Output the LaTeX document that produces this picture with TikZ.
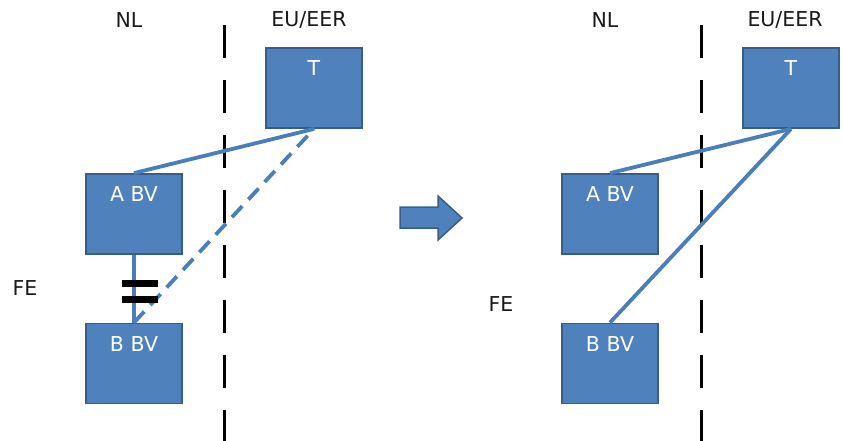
\documentclass[tikz,border=0pt]{standalone}
\usepackage{fontspec}
\setmainfont{DejaVu Sans}
\definecolor{boxfill}{HTML}{4F81BD}
\definecolor{boxline}{HTML}{385D8A}
\definecolor{linkblue}{HTML}{4A7EBB}
\definecolor{txt}{HTML}{1A1A1A}
\begin{document}
\begin{tikzpicture}[x=1pt,y=-1pt,
  box/.style={draw=boxline,fill=boxfill,line width=1.8pt,minimum width=96pt,minimum height=80pt,inner sep=0pt},
  boxtxt/.style={text=white,font=\fontsize{20.5}{24}\selectfont,inner sep=0pt,anchor=center,yshift=-21pt},
  lab/.style={text=txt,font=\fontsize{20.5}{24}\selectfont,inner sep=0pt},
  link/.style={draw=linkblue,line width=3.8pt},
  dlink/.style={link,dash pattern=on 15pt off 9pt},
  border/.style={draw=black,line width=3pt,dash pattern=on 33pt off 22pt},
  bar/.style={fill=black,minimum width=36pt,minimum height=7pt,inner sep=0pt},
  bigarrow/.style={draw=boxline,fill=boxfill,line width=1.5pt,line join=miter}]
\useasboundingbox (0,0) rectangle (843,441);
% left panel
\node[lab] (nl1) at (129,20) {NL};
\node[lab] (eu1) at (309,20) {EU/EER};
\node[lab] (fe1) at (25,288) {FE};
\draw[border] (224,25) -- (224,441);
\node[box,label={[boxtxt]north:T}] (T1) at (314,88) {};
\node[box,label={[boxtxt]north:A BV}] (A1) at (134,214) {};
\node[box,label={[boxtxt]north:B BV}] (B1) at (134,363.5) {};
\draw[link] (A1.north) -- (T1.south);
\draw[link] (A1.south) -- (B1.north);
\draw[dlink] (B1.north) -- (T1.south);
\node[bar] (bar1) at (140,283.5) {};
\node[bar] (bar2) at (140,299.5) {};
% transition arrow
\draw[bigarrow] (400,207) -- (438,207) -- (438,196) -- (462,218) -- (438,240) -- (438,228) -- (400,228) -- cycle;
% right panel
\node[lab] (nl2) at (605,20) {NL};
\node[lab] (eu2) at (785,20) {EU/EER};
\node[lab] (fe2) at (501,304) {FE};
\draw[border] (701,25) -- (701,441);
\node[box,label={[boxtxt]north:T}] (T2) at (791,88) {};
\node[box,label={[boxtxt]north:A BV}] (A2) at (610,214) {};
\node[box,label={[boxtxt]north:B BV}] (B2) at (610,363.5) {};
\draw[link] (A2.north) -- (T2.south);
\draw[link] (B2.north) -- (T2.south);
\end{tikzpicture}
\end{document}
